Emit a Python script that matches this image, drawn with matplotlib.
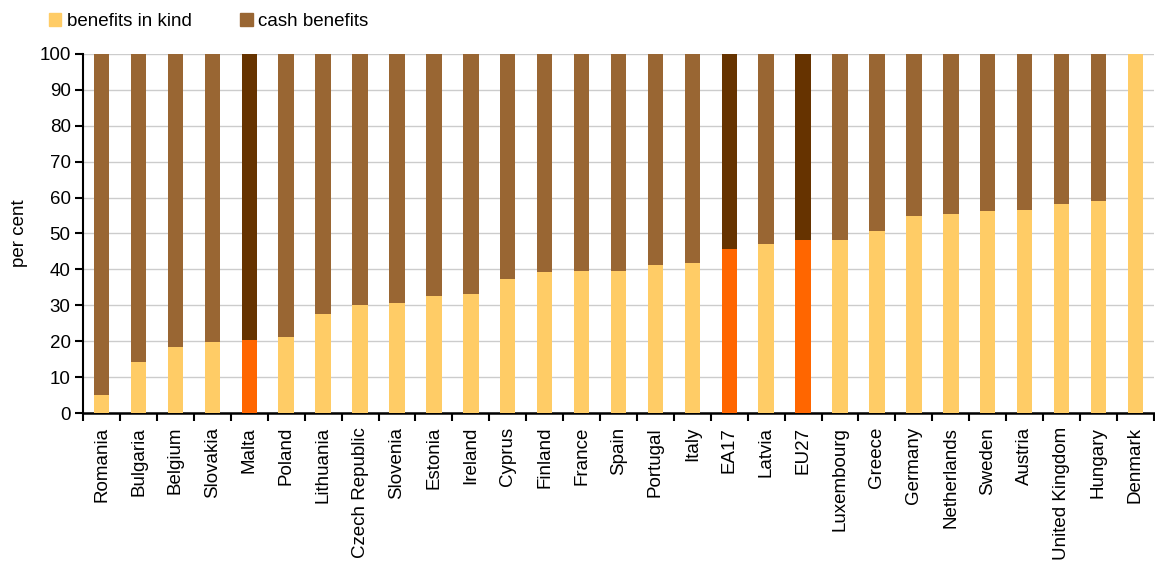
import matplotlib
matplotlib.use("Agg")
import matplotlib.pyplot as plt
from matplotlib.patches import Patch
import numpy as np

plt.rcParams['font.family'] = ['Liberation Sans', 'DejaVu Sans']

countries = ["Romania", "Bulgaria", "Belgium", "Slovakia", "Malta", "Poland", "Lithuania",
             "Czech Republic", "Slovenia", "Estonia", "Ireland", "Cyprus", "Finland", "France",
             "Spain", "Portugal", "Italy", "EA17", "Latvia", "EU27", "Luxembourg", "Greece",
             "Germany", "Netherlands", "Sweden", "Austria", "United Kingdom", "Hungary", "Denmark"]
in_kind = [4.9, 14.1, 18.3, 19.7, 20.2, 21.3, 27.7, 30.1, 30.7, 32.7, 33.2, 37.2, 39.3, 39.6,
           39.6, 41.3, 41.8, 45.7, 47.1, 48.2, 48.3, 50.7, 54.9, 55.5, 56.3, 56.6, 58.3, 59.1, 100.0]
cash = [100 - v for v in in_kind]
highlight = ["Malta", "EA17", "EU27"]

c_kind, c_cash = "#FFCC66", "#996633"
c_kind_h, c_cash_h = "#FF6600", "#663300"

FS = 13.5

fig = plt.figure(figsize=(11.55, 5.67), dpi=100)
ax = fig.add_axes([0.072, 0.2716, 0.927, 0.6332])

x = np.arange(len(countries))
kc = [c_kind_h if c in highlight else c_kind for c in countries]
cc = [c_cash_h if c in highlight else c_cash for c in countries]
ax.bar(x, in_kind, width=0.42, color=kc, zorder=3)
ax.bar(x, cash, bottom=in_kind, width=0.42, color=cc, zorder=3)

ax.set_xlim(-0.5, len(countries) - 0.5)
ax.set_ylim(0, 100)
ax.set_yticks(np.arange(0, 101, 10))
ax.yaxis.grid(True, color="#CCCCCC", linewidth=1.0, zorder=0)
ax.set_axisbelow(True)
for s in ["top", "right"]:
    ax.spines[s].set_visible(False)
ax.spines["left"].set_linewidth(1.5)
ax.spines["bottom"].set_linewidth(1.8)
ax.tick_params(axis="y", direction="out", length=6, width=1.5, labelsize=FS, pad=3)
ax.set_xticks(x)
ax.set_xticklabels(countries, rotation=90, fontsize=FS)
ax.tick_params(axis="x", which="major", length=0, pad=10)
ax.set_xticks(np.arange(-0.5, len(countries), 1.0), minor=True)
ax.tick_params(axis="x", which="minor", direction="out", length=6, width=1.5)
ax.set_ylabel("per cent", fontsize=FS, labelpad=8)

handles = [Patch(color=c_kind, label="benefits in kind"), Patch(color=c_cash, label="cash benefits")]
fig.legend(handles=handles, loc="upper left", bbox_to_anchor=(0.031, 1.0), ncol=2, frameon=False,
           fontsize=FS, handlelength=0.65, handleheight=0.65, handletextpad=0.3, columnspacing=2.6,
           borderaxespad=0.3)

fig.savefig("out.png", dpi=100)
